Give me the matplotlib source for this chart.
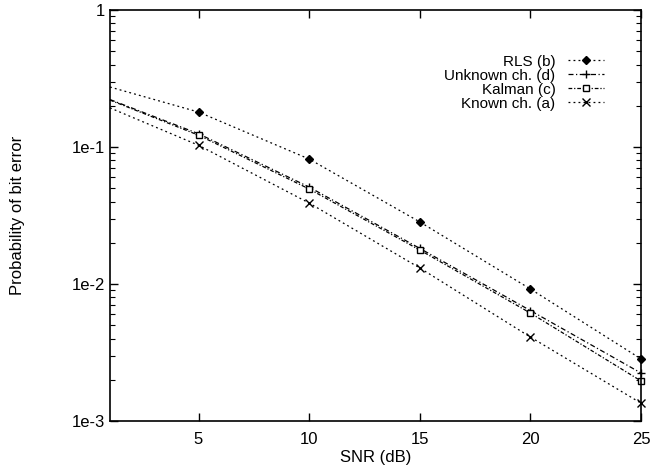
import matplotlib
matplotlib.use("Agg")
import matplotlib.pyplot as plt
from matplotlib.ticker import FixedLocator, FixedFormatter, LogLocator, NullFormatter

plt.rcParams['font.family'] = ['Liberation Sans', 'DejaVu Sans']

snr = [1, 5, 10, 15, 20, 25]
rls = [0.274, 0.18, 0.0817, 0.0284, 0.0092, 0.00284]
unknown = [0.222, 0.125, 0.051, 0.0182, 0.0064, 0.00224]
kalman = [0.220, 0.122, 0.0494, 0.0177, 0.00614, 0.00196]
known = [0.193, 0.103, 0.039, 0.0131, 0.0041, 0.00135]

labels = ["RLS (b)", "Unknown ch. (d)", "Kalman (c)", "Known ch. (a)"]
xticks = [5, 10, 15, 20, 25]
yticks = [1e-3, 1e-2, 1e-1, 1]
yticklabels = ["1e-3", "1e-2", "1e-1", "1"]

fig = plt.figure(figsize=(6.51, 4.74), dpi=100)
ax = fig.add_axes([110/651, 1-421/474, (641-110)/651, (421-10)/474])

me = slice(1, None)
ax.plot(snr, rls, color='black', lw=0.9, dashes=(1.5, 2.5), marker='D', ms=4,
        mfc='black', mec='black', label=labels[0], clip_on=False, markevery=me)
ax.plot(snr, unknown, color='black', lw=0.9, dashes=(4, 2, 1, 2), marker='+', ms=6,
        mew=1.0, label=labels[1], clip_on=False, markevery=me)
ax.plot(snr, kalman, color='black', lw=0.9, dashes=(3, 1.5, 1, 1.5), marker='s', ms=5,
        mfc='white', mec='black', label=labels[2], clip_on=False, markevery=me)
ax.plot(snr, known, color='black', lw=0.9, dashes=(1.5, 2.5), marker='x', ms=6,
        mew=1.0, label=labels[3], clip_on=False, markevery=me)

ax.set_yscale('log')
ax.set_xlim(1, 25)
ax.set_ylim(1e-3, 1)
ax.xaxis.set_major_locator(FixedLocator(xticks))
ax.yaxis.set_major_locator(FixedLocator(yticks))
ax.yaxis.set_major_formatter(FixedFormatter(yticklabels))
ax.yaxis.set_minor_locator(LogLocator(base=10, subs=range(2, 10)))
ax.yaxis.set_minor_formatter(NullFormatter())

ax.tick_params(which='both', direction='in', top=True, right=True, labelsize=12)
ax.tick_params(which='major', length=6, width=1)
ax.tick_params(which='minor', length=3.5, width=0.8)
ax.tick_params(axis='x', pad=8)
for s in ax.spines.values():
    s.set_linewidth(1.2)

ax.set_xlabel("SNR (dB)", fontsize=12, labelpad=2)
ax.set_ylabel("Probability of bit error", fontsize=12, labelpad=34)

leg = ax.legend(loc='upper right', frameon=False, markerfirst=False,
                fontsize=11, handlelength=2.4, handletextpad=0.8, labelspacing=0.0,
                borderpad=0)
leg.set_bbox_to_anchor((612/651, 1 - 47/474), transform=fig.transFigure)

fig.savefig("out.png", dpi=100)
